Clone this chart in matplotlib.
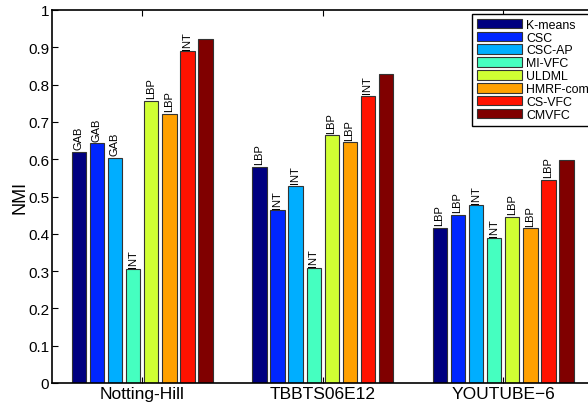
import numpy as np
import matplotlib
matplotlib.use("Agg")
import matplotlib.pyplot as plt

plt.rcParams['font.family'] = ['Liberation Sans', 'DejaVu Sans']

# data
datasets = ['Notting-Hill', 'TBBTS06E12', 'YOUTUBE\u22126']
methods = ['K-means', 'CSC', 'CSC-AP', 'MI-VFC', 'ULDML', 'HMRF-com', 'CS-VFC', 'CMVFC']
colors = ['#000080', '#0026ff', '#00aeff', '#45ffc0', '#d0ff33', '#ffa000', '#ff1200', '#800000']

nmi_notting = [0.620, 0.643, 0.604, 0.305, 0.757, 0.722, 0.889, 0.921]
nmi_tbbts = [0.579, 0.463, 0.528, 0.307, 0.664, 0.645, 0.770, 0.829]
nmi_youtube = [0.416, 0.451, 0.476, 0.388, 0.446, 0.415, 0.545, 0.599]

feat_notting = ['GAB', 'GAB', 'GAB', 'INT', 'LBP', 'LBP', 'INT', '']
feat_tbbts = ['LBP', 'INT', 'INT', 'INT', 'LBP', 'LBP', 'INT', '']
feat_youtube = ['LBP', 'LBP', 'INT', 'INT', 'LBP', 'LBP', 'LBP', '']

values = np.array([nmi_notting, nmi_tbbts, nmi_youtube])
feats = [feat_notting, feat_tbbts, feat_youtube]

fig = plt.figure(figsize=(5.88, 4.06), dpi=100)
ax = fig.add_axes([52/588, 22/406, 541.5/588, 373/406])

x = np.arange(1, 4)
slot = 0.1
for i, m in enumerate(methods):
    pos = x + (i - 3.5) * slot
    ax.bar(pos, values[:, i], width=0.08, color=colors[i], edgecolor='#333333',
           linewidth=0.8, label=m, zorder=2)
    for g in range(3):
        if feats[g][i]:
            ax.text(pos[g] - 0.003, values[g, i] + 0.007, feats[g][i], rotation=90,
                    ha='center', va='bottom', fontsize=8)

ax.set_xlim(0.5, 3.5)
ax.set_ylim(0, 1)
ax.set_xticks(x)
ax.set_xticklabels(datasets, fontsize=12.5)
ax.set_yticks(np.arange(0, 1.01, 0.1))
ax.set_yticklabels(['0', '0.1', '0.2', '0.3', '0.4', '0.5', '0.6', '0.7', '0.8', '0.9', '1'])
ax.tick_params(axis='y', labelsize=11, pad=2)
ax.tick_params(direction='in', length=4, width=0.8, top=True, right=True)
ax.tick_params(axis='x', pad=2)
ax.set_ylabel('NMI', fontsize=13, labelpad=0)

for spine in ax.spines.values():
    spine.set_linewidth(1.2)

# legend sticks out past the right edge like in the original
leg = ax.legend(loc='upper left', bbox_to_anchor=(0.776, 0.99), fontsize=8.9,
                handlelength=3.6, handleheight=0.8, labelspacing=0.07,
                handletextpad=0.35, borderpad=0.4, borderaxespad=0,
                fancybox=False, framealpha=1, edgecolor='black')
leg.get_frame().set_linewidth(1.0)

fig.savefig('out.png', dpi=100)
